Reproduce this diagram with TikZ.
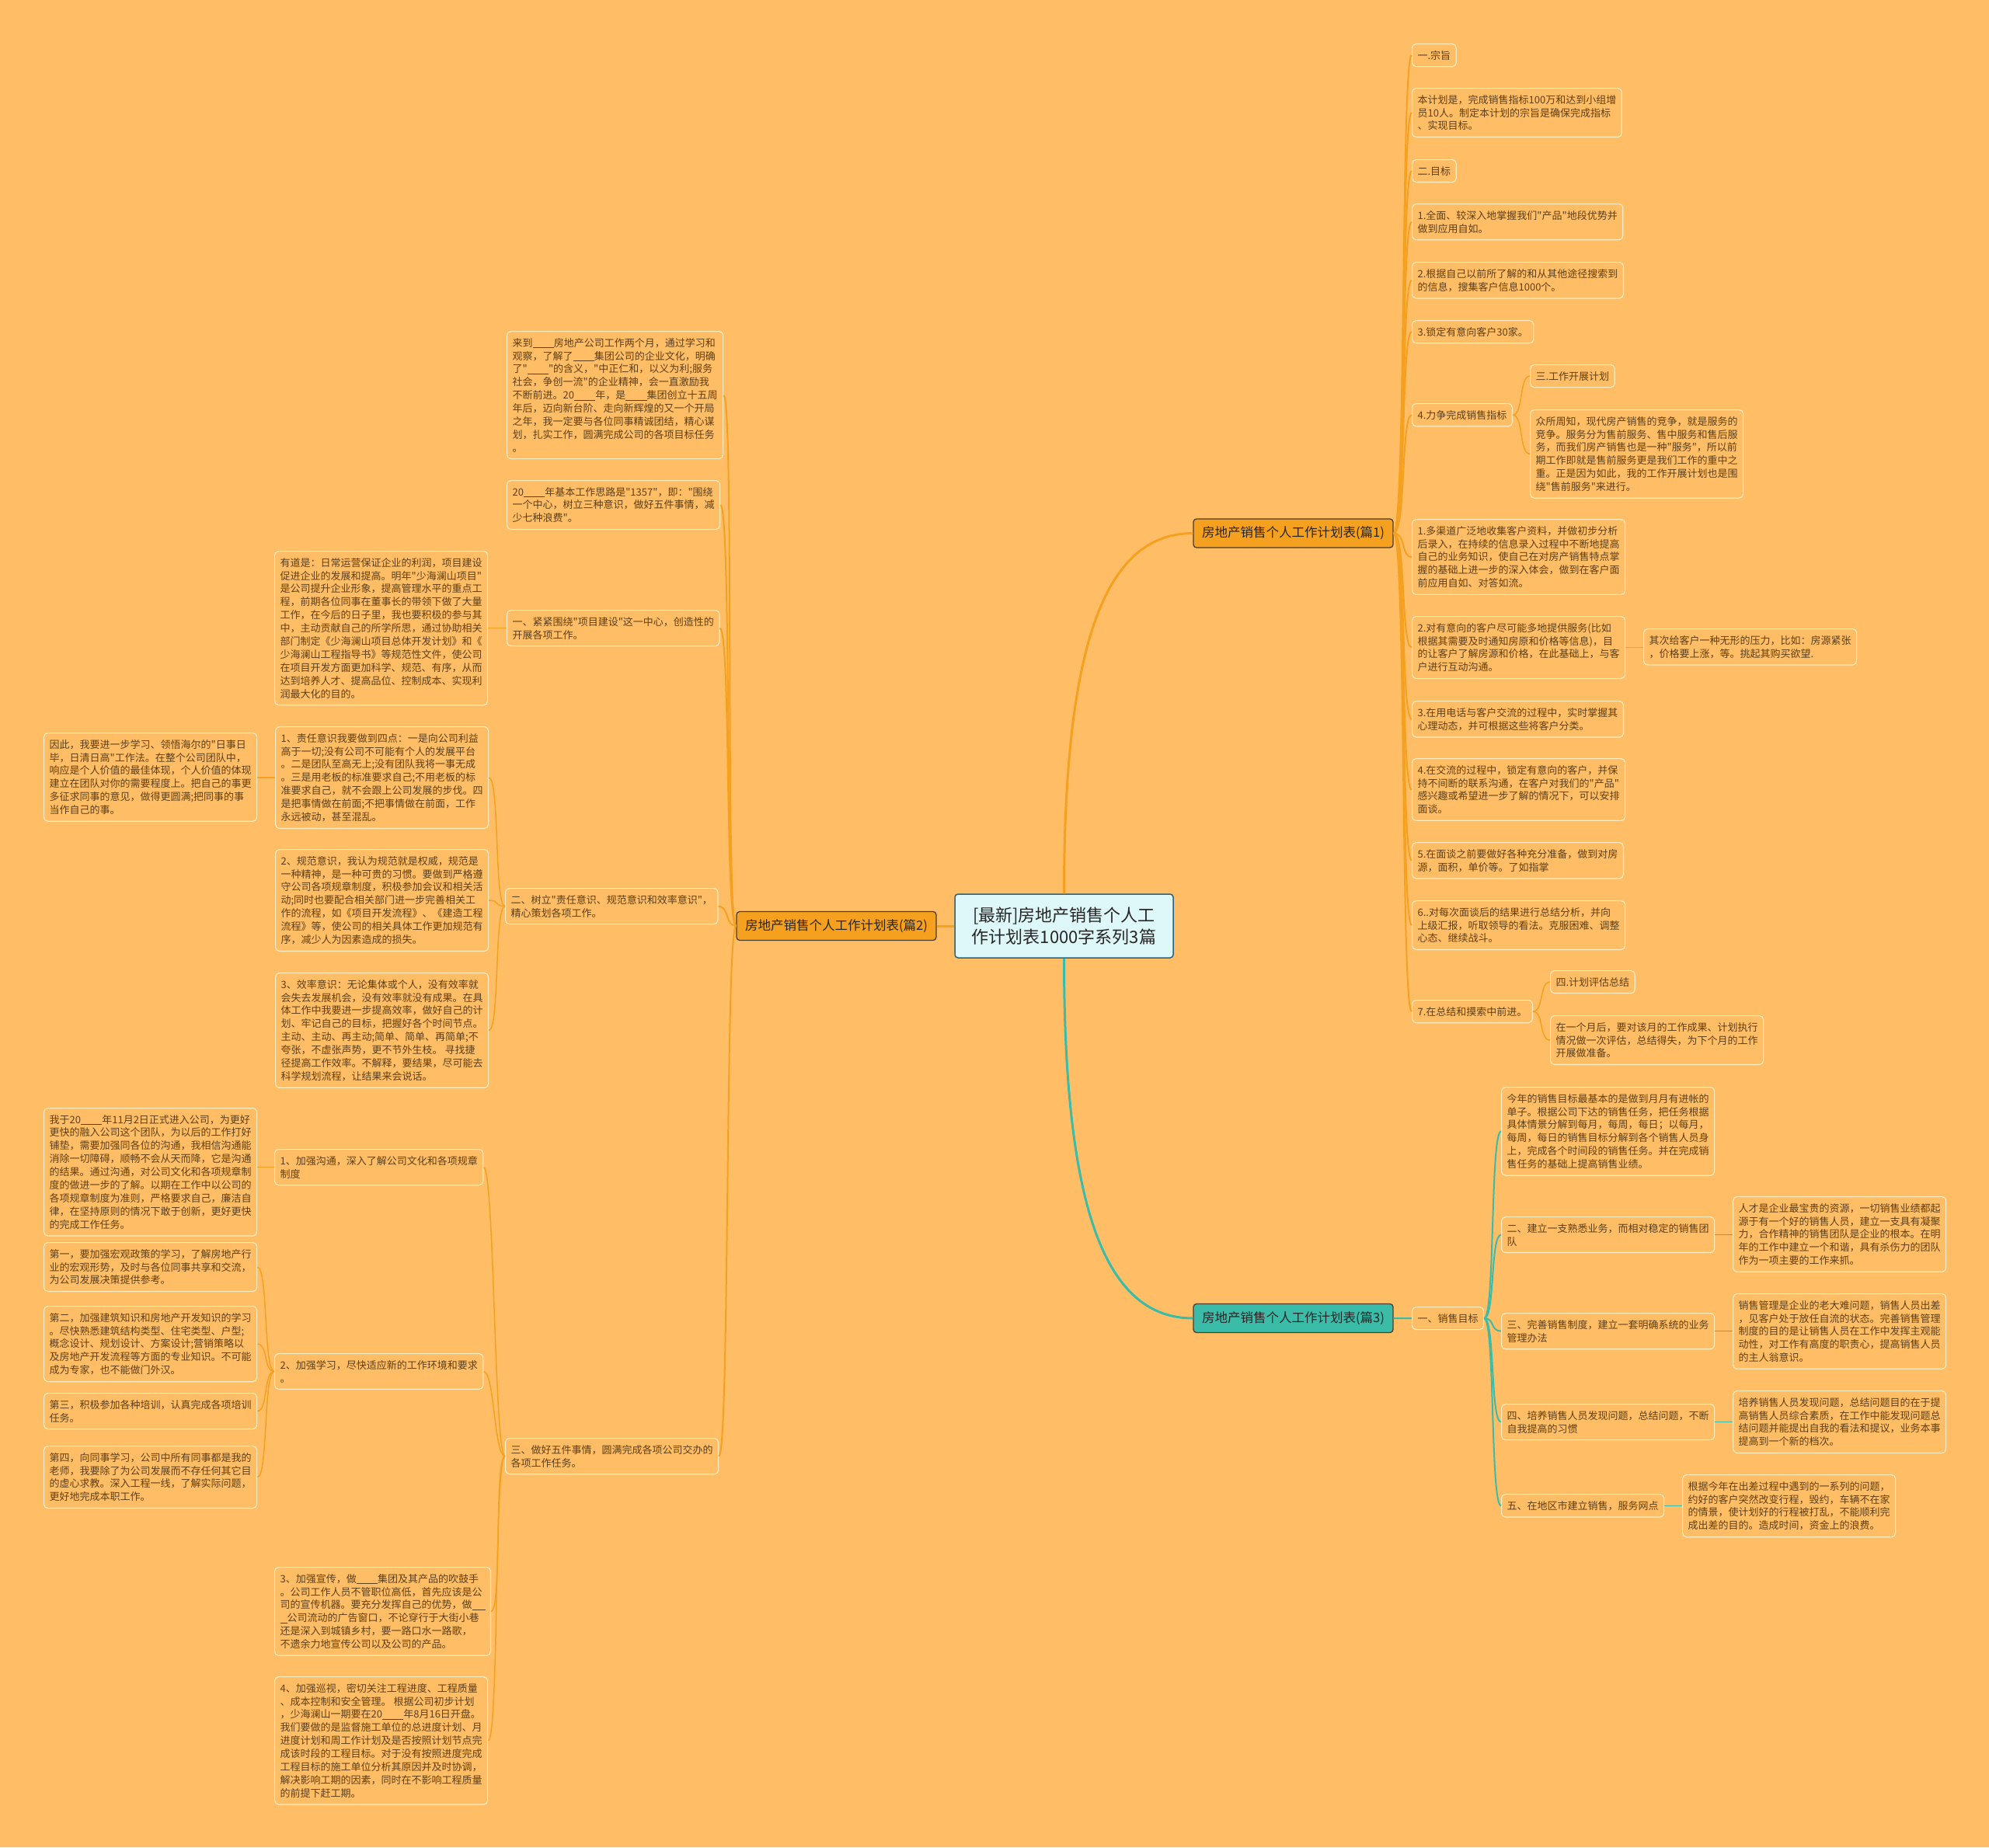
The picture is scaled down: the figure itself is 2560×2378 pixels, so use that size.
\documentclass[tikz,border=0pt]{standalone}
\usepackage{fontspec}
\setmainfont{Noto Sans CJK SC}[Ligatures=TeXOff]
\usepackage{xcolor}
\usepackage{tikz}
\usetikzlibrary{positioning}
\definecolor{bgorange}{RGB}{255,190,102}
\definecolor{boxline}{RGB}{255,236,192}
\definecolor{leaftext}{RGB}{92,62,24}
\definecolor{branchorange}{RGB}{246,160,32}
\definecolor{branchteal}{RGB}{58,188,168}
\definecolor{rootfill}{RGB}{222,247,248}
\definecolor{rootline}{RGB}{40,100,130}
\definecolor{darkline}{RGB}{80,60,40}
\tikzstyle{line} = [draw, line width=2pt, branchorange]
\tikzstyle{tline} = [draw, line width=2pt, branchteal]
\newcommand{\blankfill}[1][2.1em]{\underline{\hspace{#1}}}

\begin{document}
\begin{tikzpicture}[x=1pt, y=-1pt,
  leaf/.style={draw=boxline, line width=1.2pt, rounded corners=5pt,
    fill=bgorange, text=leaftext, align=left, anchor=north west,
    inner xsep=7pt, inner ysep=8.5pt, font=\fontsize{13}{16.9}\selectfont},
  topic/.style={draw=darkline, line width=1.3pt, rounded corners=4pt,
    text=black!85, font=\fontsize{16.5}{20}\selectfont,
    minimum width=257pt, minimum height=37pt, inner sep=3pt},
  centre/.style={draw=rootline, line width=1.5pt, rounded corners=4pt,
    fill=rootfill, text=black!85, align=center,
    font=\fontsize{22}{28}\selectfont,
    minimum width=281pt, minimum height=82pt}]
  \fill [bgorange] (0,0) rectangle (2560,2378);
  \useasboundingbox (0,0) rectangle (2560,2378);
  %% Centre and branches
  \node [centre] (root) at (1369.5,1192) {[最新]房地产销售个人工\\作计划表1000字系列3篇};
  \node [topic, fill=branchorange] (B1) at (1664.5,686.5) {房地产销售个人工作计划表(篇1)};
  \node [topic, fill=branchorange] (B2) at (1076.5,1192) {房地产销售个人工作计划表(篇2)};
  \node [topic, fill=branchteal] (B3) at (1664.5,1697) {房地产销售个人工作计划表(篇3)};
  %% Branch 1
  \node [leaf] (B1_1) at (1817,56) {一.宗旨};
  \node [leaf] (B1_2) at (1817,113) {本计划是，完成销售指标100万和达到小组增\\员10人。制定本计划的宗旨是确保完成指标\\、实现目标。};
  \node [leaf] (B1_3) at (1817,205) {二.目标};
  \node [leaf] (B1_4) at (1817,262) {1.全面、较深入地掌握我们"产品"地段优势并\\做到应用自如。};
  \node [leaf] (B1_5) at (1817,337) {2.根据自己以前所了解的和从其他途径搜索到\\的信息，搜集客户信息1000个。};
  \node [leaf] (B1_6) at (1817,412) {3.锁定有意向客户30家。};
  \node [leaf] (B1_7) at (1817,519) {4.力争完成销售指标};
  \node [leaf] (B1_7a) at (1969,469) {三.工作开展计划};
  \node [leaf] (B1_7b) at (1969,527) {众所周知，现代房产销售的竞争，就是服务的\\竞争。服务分为售前服务、售中服务和售后服\\务，而我们房产销售也是一种"服务"，所以前\\期工作即就是售前服务更是我们工作的重中之\\重。正是因为如此，我的工作开展计划也是围\\绕"售前服务"来进行。};
  \node [leaf] (B1_8) at (1817,668) {1.多渠道广泛地收集客户资料，并做初步分析\\后录入，在持续的信息录入过程中不断地提高\\自己的业务知识，使自己在对房产销售特点掌\\握的基础上进一步的深入体会，做到在客户面\\前应用自如、对答如流。};
  \node [leaf] (B1_9) at (1817,793) {2.对有意向的客户尽可能多地提供服务(比如\\根据其需要及时通知房原和价格等信息)，目\\的让客户了解房源和价格，在此基础上，与客\\户进行互动沟通。};
  \node [leaf] (B1_9a) at (2115,809) {其次给客户一种无形的压力，比如：房源紧张\\，价格要上涨，等。挑起其购买欲望.};
  \node [leaf] (B1_10) at (1817,902) {3.在用电话与客户交流的过程中，实时掌握其\\心理动态，并可根据这些将客户分类。};
  \node [leaf] (B1_11) at (1817,976) {4.在交流的过程中，锁定有意向的客户，并保\\持不间断的联系沟通，在客户对我们的"产品"\\感兴趣或希望进一步了解的情况下，可以安排\\面谈。};
  \node [leaf] (B1_12) at (1817,1084) {5.在面谈之前要做好各种充分准备，做到对房\\源，面积，单价等。了如指掌};
  \node [leaf] (B1_13) at (1817,1159) {6..对每次面谈后的结果进行总结分析，并向\\上级汇报，听取领导的看法。克服困难、调整\\心态、继续战斗。};
  \node [leaf] (B1_14) at (1817,1287) {7.在总结和摸索中前进。};
  \node [leaf] (B1_14a) at (1995,1249) {四.计划评估总结};
  \node [leaf] (B1_14b) at (1995,1307) {在一个月后，要对该月的工作成果、计划执行\\情况做一次评估，总结得失，为下个月的工作\\开展做准备。};
  %% Branch 2
  \node [leaf] (B2_1) at (652,426) {来到\blankfill 房地产公司工作两个月，通过学习和\\观察，了解了\blankfill 集团公司的企业文化，明确\\了"\blankfill"的含义，"中正仁和，以义为利;服务\\社会，争创一流"的企业精神，会一直激励我\\不断前进。20\blankfill 年，是\blankfill 集团创立十五周\\年后，迈向新台阶、走向新辉煌的又一个开局\\之年，我一定要与各位同事精诚团结，精心谋\\划，扎实工作，圆满完成公司的各项目标任务\\。};
  \node [leaf] (B2_2) at (652,618) {20\blankfill 年基本工作思路是"1357"，即："围绕\\一个中心，树立三种意识，做好五件事情，减\\少七种浪费"。};
  \node [leaf] (B2_3) at (652,785) {一、紧紧围绕"项目建设"这一中心，创造性的\\开展各项工作。};
  \node [leaf] (B2_3a) at (353,709) {有道是：日常运营保证企业的利润，项目建设\\促进企业的发展和提高。明年"少海澜山项目"\\是公司提升企业形象，提高管理水平的重点工\\程，前期各位同事在董事长的带领下做了大量\\工作，在今后的日子里，我也要积极的参与其\\中，主动贡献自己的所学所思，通过协助相关\\部门制定《少海澜山项目总体开发计划》和《\\少海澜山工程指导书》等规范性文件，使公司\\在项目开发方面更加科学、规范、有序，从而\\达到培养人才、提高品位、控制成本、实现利\\润最大化的目的。};
  \node [leaf] (B2_4) at (650,1143) {二、树立"责任意识、规范意识和效率意识"，\\精心策划各项工作。};
  \node [leaf] (B2_4a) at (354,935) {1、责任意识我要做到四点：一是向公司利益\\高于一切;没有公司不可能有个人的发展平台\\。二是团队至高无上;没有团队我将一事无成\\。三是用老板的标准要求自己;不用老板的标\\准要求自己，就不会跟上公司发展的步伐。四\\是把事情做在前面;不把事情做在前面，工作\\永远被动，甚至混乱。};
  \node [leaf] (B2_4a1) at (56,943) {因此，我要进一步学习、领悟海尔的"日事日\\毕，日清日高"工作法。在整个公司团队中，\\响应是个人价值的最佳体现，个人价值的体现\\建立在团队对你的需要程度上。把自己的事更\\多征求同事的意见，做得更圆满;把同事的事\\当作自己的事。};
  \node [leaf] (B2_4b) at (354,1093) {2、规范意识，我认为规范就是权威，规范是\\一种精神，是一种可贵的习惯。要做到严格遵\\守公司各项规章制度，积极参加会议和相关活\\动;同时也要配合相关部门进一步完善相关工\\作的流程，如《项目开发流程》、《建造工程\\流程》等，使公司的相关具体工作更加规范有\\序，减少人为因素造成的损失。};
  \node [leaf] (B2_4c) at (354,1252) {3、效率意识：无论集体或个人，没有效率就\\会失去发展机会，没有效率就没有成果。在具\\体工作中我要进一步提高效率，做好自己的计\\划、牢记自己的目标，把握好各个时间节点。\\主动、主动、再主动;简单、简单、再简单;不\\夸张，不虚张声势，更不节外生枝。 寻找捷\\径提高工作效率。不解释，要结果，尽可能去\\科学规划流程，让结果来会说话。};
  \node [leaf] (B2_5) at (650,1851) {三、做好五件事情，圆满完成各项公司交办的\\各项工作任务。};
  \node [leaf] (B2_5a) at (353,1479) {1、加强沟通，深入了解公司文化和各项规章\\制度};
  \node [leaf] (B2_5a1) at (56,1426) {我于20\blankfill 年11月2日正式进入公司，为更好\\更快的融入公司这个团队，为以后的工作打好\\铺垫，需要加强同各位的沟通，我相信沟通能\\消除一切障碍，顺畅不会从天而降，它是沟通\\的结果。通过沟通，对公司文化和各项规章制\\度的做进一步的了解。以期在工作中以公司的\\各项规章制度为准则，严格要求自己，廉洁自\\律，在坚持原则的情况下敢于创新，更好更快\\的完成工作任务。};
  \node [leaf] (B2_5b) at (353,1742) {2、加强学习，尽快适应新的工作环境和要求\\。};
  \node [leaf] (B2_5b1) at (56,1599) {第一，要加强宏观政策的学习，了解房地产行\\业的宏观形势，及时与各位同事共享和交流，\\为公司发展决策提供参考。};
  \node [leaf] (B2_5b2) at (56,1681) {第二，加强建筑知识和房地产开发知识的学习\\。尽快熟悉建筑结构类型、住宅类型、户型;\\概念设计、规划设计、方案设计;营销策略以\\及房地产开发流程等方面的专业知识。不可能\\成为专家，也不能做门外汉。};
  \node [leaf] (B2_5b3) at (56,1793) {第三，积极参加各种培训，认真完成各项培训\\任务。};
  \node [leaf] (B2_5b4) at (56,1861) {第四，向同事学习，公司中所有同事都是我的\\老师，我要除了为公司发展而不存任何其它目\\的虚心求教。深入工程一线，了解实际问题，\\更好地完成本职工作。};
  \node [leaf] (B2_5c) at (353,2017) {3、加强宣传，做\blankfill 集团及其产品的吹鼓手\\。公司工作人员不管职位高低，首先应该是公\\司的宣传机器。要充分发挥自己的优势，做\blankfill[1.3em]\\\blankfill[0.7em]公司流动的广告窗口，不论穿行于大街小巷\\ 还是深入到城镇乡村，要一路口水一路歌，\\不遗余力地宣传公司以及公司的产品。};
  \node [leaf] (B2_5d) at (353,2158) {4、加强巡视，密切关注工程进度、工程质量\\、成本控制和安全管理。 根据公司初步计划\\，少海澜山一期要在20\blankfill 年8月16日开盘。\\我们要做的是监督施工单位的总进度计划、月\\进度计划和周工作计划及是否按照计划节点完\\成该时段的工程目标。对于没有按照进度完成\\工程目标的施工单位分析其原因并及时协调，\\解决影响工期的因素，同时在不影响工程质量\\的前提下赶工期。};
  %% Branch 3
  \node [leaf] (B3_1) at (1817,1682) {一、销售目标};
  \node [leaf] (B3_1a) at (1932,1399) {今年的销售目标最基本的是做到月月有进帐的\\单子。根据公司下达的销售任务，把任务根据\\具体情景分解到每月，每周，每日；以每月，\\每周，每日的销售目标分解到各个销售人员身\\上，完成各个时间段的销售任务。并在完成销\\售任务的基础上提高销售业绩。};
  \node [leaf] (B3_1b) at (1932,1566) {二、建立一支熟悉业务，而相对稳定的销售团\\队};
  \node [leaf] (B3_1b1) at (2230,1540) {人才是企业最宝贵的资源，一切销售业绩都起\\源于有一个好的销售人员，建立一支具有凝聚\\力，合作精神的销售团队是企业的根本。在明\\年的工作中建立一个和谐，具有杀伤力的团队\\作为一项主要的工作来抓。};
  \node [leaf] (B3_1c) at (1932,1690) {三、完善销售制度，建立一套明确系统的业务\\管理办法};
  \node [leaf] (B3_1c1) at (2230,1665) {销售管理是企业的老大难问题，销售人员出差\\，见客户处于放任自流的状态。完善销售管理\\制度的目的是让销售人员在工作中发挥主观能\\动性，对工作有高度的职责心，提高销售人员\\的主人翁意识。};
  \node [leaf] (B3_1d) at (1932,1807) {四、培养销售人员发现问题，总结问题，不断\\自我提高的习惯};
  \node [leaf] (B3_1d1) at (2230,1790) {培养销售人员发现问题，总结问题目的在于提\\高销售人员综合素质，在工作中能发现问题总\\结问题并能提出自我的看法和提议，业务本事\\提高到一个新的档次。};
  \node [leaf] (B3_1e) at (1932,1923) {五、在地区市建立销售，服务网点};
  \node [leaf] (B3_1e1) at (2165,1898) {根据今年在出差过程中遇到的一系列的问题，\\约好的客户突然改变行程，毁约，车辆不在家\\的情景，使计划好的行程被打乱，不能顺利完\\成出差的目的。造成时间，资金上的浪费。};
  %% Main links
  \path [line, line width=3pt] (root.north) .. controls +(0,-330) and +(-110,0) .. (B1.west);
  \path [line, line width=3pt] (B2.east) -- (root.west);
  \path [tline, line width=3pt] (root.south) .. controls +(0,330) and +(-110,0) .. (B3.west);
  %% Links of branch 1
  \path [line] (B1.east) .. controls +(16,0) and +(-14,0) .. (B1_1.west);
  \path [line] (B1.east) .. controls +(16,0) and +(-14,0) .. (B1_2.west);
  \path [line] (B1.east) .. controls +(16,0) and +(-14,0) .. (B1_3.west);
  \path [line] (B1.east) .. controls +(16,0) and +(-14,0) .. (B1_4.west);
  \path [line] (B1.east) .. controls +(16,0) and +(-14,0) .. (B1_5.west);
  \path [line] (B1.east) .. controls +(16,0) and +(-14,0) .. (B1_6.west);
  \path [line] (B1.east) .. controls +(16,0) and +(-14,0) .. (B1_7.west);
  \path [line] (B1.east) .. controls +(16,0) and +(-14,0) .. (B1_8.west);
  \path [line] (B1.east) .. controls +(16,0) and +(-14,0) .. (B1_9.west);
  \path [line] (B1.east) .. controls +(16,0) and +(-14,0) .. (B1_10.west);
  \path [line] (B1.east) .. controls +(16,0) and +(-14,0) .. (B1_11.west);
  \path [line] (B1.east) .. controls +(16,0) and +(-14,0) .. (B1_12.west);
  \path [line] (B1.east) .. controls +(16,0) and +(-14,0) .. (B1_13.west);
  \path [line] (B1.east) .. controls +(16,0) and +(-14,0) .. (B1_14.west);
  \path [line, line width=1.5pt] (B1_7.east) .. controls +(14,0) and +(-14,0) .. (B1_7a.west);
  \path [line, line width=1.5pt] (B1_7.east) .. controls +(14,0) and +(-14,0) .. (B1_7b.west);
  \path [line, line width=1.5pt] (B1_9.east) -- (B1_9a.west |- B1_9.east);
  \path [line, line width=1.5pt] (B1_14.east) .. controls +(14,0) and +(-14,0) .. (B1_14a.west);
  \path [line, line width=1.5pt] (B1_14.east) .. controls +(14,0) and +(-14,0) .. (B1_14b.west);
  %% Links of branch 2
  \path [line] (B2.west) .. controls +(-14,0) and +(14,0) .. (B2_1.east);
  \path [line] (B2.west) .. controls +(-14,0) and +(14,0) .. (B2_2.east);
  \path [line] (B2.west) .. controls +(-14,0) and +(14,0) .. (B2_3.east);
  \path [line] (B2.west) .. controls +(-14,0) and +(14,0) .. (B2_4.east);
  \path [line] (B2.west) .. controls +(-14,0) and +(14,0) .. (B2_5.east);
  \path [line, line width=1.5pt] (B2_3.west) -- (B2_3a.east |- B2_3.west);
  \path [line, line width=1.5pt] (B2_4.west) .. controls +(-14,0) and +(14,0) .. (B2_4a.east);
  \path [line, line width=1.5pt] (B2_4.west) .. controls +(-14,0) and +(14,0) .. (B2_4b.east);
  \path [line, line width=1.5pt] (B2_4.west) .. controls +(-14,0) and +(14,0) .. (B2_4c.east);
  \path [line, line width=1.5pt] (B2_4a.west) -- (B2_4a1.east |- B2_4a.west);
  \path [line, line width=1.5pt] (B2_5.west) .. controls +(-14,0) and +(14,0) .. (B2_5a.east);
  \path [line, line width=1.5pt] (B2_5.west) .. controls +(-14,0) and +(14,0) .. (B2_5b.east);
  \path [line, line width=1.5pt] (B2_5.west) .. controls +(-14,0) and +(14,0) .. (B2_5c.east);
  \path [line, line width=1.5pt] (B2_5.west) .. controls +(-14,0) and +(14,0) .. (B2_5d.east);
  \path [line, line width=1.5pt] (B2_5a.west) -- (B2_5a1.east |- B2_5a.west);
  \path [line, line width=1.5pt] (B2_5b.west) .. controls +(-14,0) and +(14,0) .. (B2_5b1.east);
  \path [line, line width=1.5pt] (B2_5b.west) .. controls +(-14,0) and +(14,0) .. (B2_5b2.east);
  \path [line, line width=1.5pt] (B2_5b.west) .. controls +(-14,0) and +(14,0) .. (B2_5b3.east);
  \path [line, line width=1.5pt] (B2_5b.west) .. controls +(-14,0) and +(14,0) .. (B2_5b4.east);
  %% Links of branch 3
  \path [tline] (B3.east) -- (B3_1.west);
  \path [tline] (B3_1.east) .. controls +(14,0) and +(-14,0) .. (B3_1a.west);
  \path [tline] (B3_1.east) .. controls +(14,0) and +(-14,0) .. (B3_1b.west);
  \path [tline] (B3_1.east) .. controls +(14,0) and +(-14,0) .. (B3_1c.west);
  \path [tline] (B3_1.east) .. controls +(14,0) and +(-14,0) .. (B3_1d.west);
  \path [tline] (B3_1.east) .. controls +(14,0) and +(-14,0) .. (B3_1e.west);
  \path [tline, line width=1.5pt] (B3_1b.east) -- (B3_1b1.west |- B3_1b.east);
  \path [tline, line width=1.5pt] (B3_1c.east) -- (B3_1c1.west |- B3_1c.east);
  \path [tline, line width=1.5pt] (B3_1d.east) -- (B3_1d1.west |- B3_1d.east);
  \path [tline, line width=1.5pt] (B3_1e.east) -- (B3_1e1.west |- B3_1e.east);
\end{tikzpicture}
\end{document}
